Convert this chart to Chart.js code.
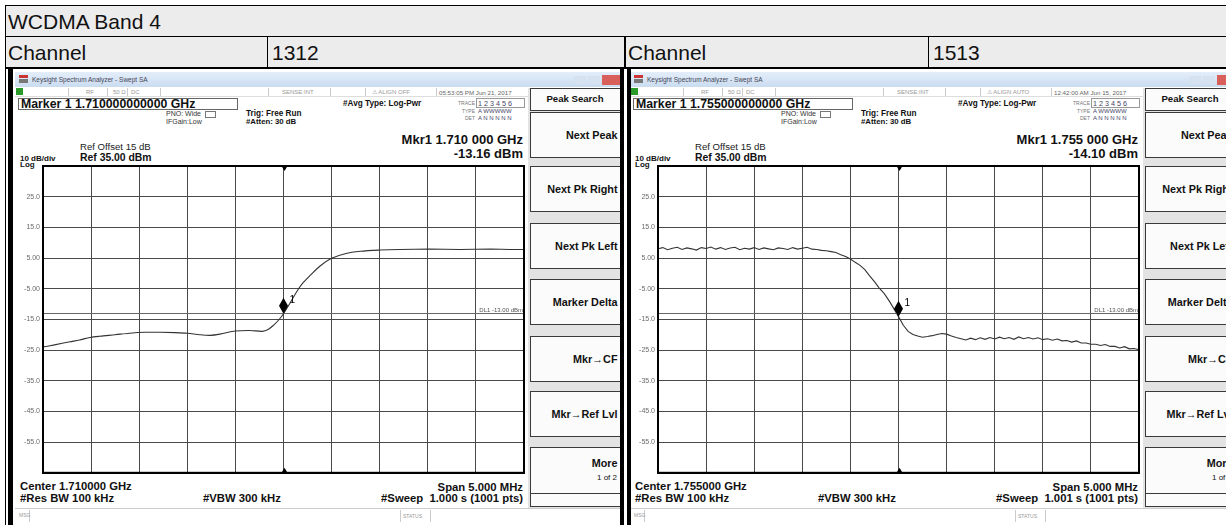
<!DOCTYPE html>
<html>
<head>
<meta charset="utf-8">
<title>WCDMA Band 4</title>
<script src="https://cdn.jsdelivr.net/npm/chart.js@4.4.1/dist/chart.umd.min.js"></script>
<style>
  body { margin: 0; background: #fff; font-family: Arial, "Liberation Sans", sans-serif; }
  #page { position: relative; width: 1226px; height: 525px; overflow: hidden; background: #fff; }
  .abs { position: absolute; white-space: pre; }
  .screen { position: absolute; top: 0; width: 620px; height: 525px; overflow: hidden; }
  .btn { position: absolute; left: 530px; width: 92px; box-sizing: border-box; background: #fbfbfb; border: 1px solid #3a3a3a; }
  canvas { position: absolute; }
</style>
</head>
<body>
<div id="page"></div>
<script>
// --- Datos de las dos capturas (frecuencia en MHz, nivel en dBm) ---
const leftFreq = [1707.50, 1707.62, 1707.78, 1707.88, 1707.99, 1708.09, 1708.25, 1708.40, 1708.56, 1708.72,
                  1708.87, 1709.00, 1709.13, 1709.24, 1709.34, 1709.50, 1709.65, 1709.78, 1709.84, 1709.90,
                  1709.95, 1710.00, 1710.07, 1710.14, 1710.20, 1710.28, 1710.38, 1710.50, 1710.64, 1710.80,
                  1711.00, 1711.21, 1711.52, 1711.83, 1712.15, 1712.35, 1712.50];
const leftLevel = [-24.0, -23.3, -22.3, -21.7, -20.9, -20.5, -20.0, -19.5, -19.2, -19.2,
                   -19.3, -19.5, -20.0, -20.2, -19.8, -18.8, -18.6, -18.9, -18.3, -16.8,
                   -15.2, -13.16, -9.6, -5.8, -3.2, -0.6, 2.4, 4.9, 6.4, 7.2,
                   7.6, 7.8, 7.9, 7.8, 7.9, 7.8, 7.8];

const rightFreq = [1752.50, 1752.55, 1752.60, 1752.65, 1752.70, 1752.75, 1752.80, 1752.85, 1752.90, 1752.95,
                   1753.00, 1753.05, 1753.10, 1753.15, 1753.20, 1753.25, 1753.30, 1753.35, 1753.40, 1753.45,
                   1753.50, 1753.55, 1753.60, 1753.65, 1753.70, 1753.75, 1753.80, 1753.85, 1753.90, 1753.95,
                   1754.00, 1754.05, 1754.10, 1754.15, 1754.20, 1754.25, 1754.30, 1754.35, 1754.40, 1754.45,
                   1754.50, 1754.55, 1754.60, 1754.65, 1754.70, 1754.75, 1754.80, 1754.85, 1754.90, 1754.95,
                   1755.00, 1755.05, 1755.10, 1755.15, 1755.20, 1755.25, 1755.30, 1755.35, 1755.40, 1755.45,
                   1755.50, 1755.55, 1755.60, 1755.65, 1755.70, 1755.75, 1755.80, 1755.85, 1755.90, 1755.95,
                   1756.00, 1756.05, 1756.10, 1756.15, 1756.20, 1756.25, 1756.30, 1756.35, 1756.40, 1756.45,
                   1756.50, 1756.55, 1756.60, 1756.65, 1756.70, 1756.75, 1756.80, 1756.85, 1756.90, 1756.95,
                   1757.00, 1757.05, 1757.10, 1757.15, 1757.20, 1757.25, 1757.30, 1757.35, 1757.40, 1757.45,
                   1757.50];
const rightLevel = [8.0, 8.4, 7.7, 8.2, 8.5, 7.8, 8.3, 8.0, 7.6, 8.4,
                    8.1, 8.6, 7.9, 8.4, 7.8, 8.3, 8.5, 7.7, 8.2, 7.9,
                    8.4, 7.8, 8.3, 8.0, 7.7, 8.3, 8.1, 7.8, 8.4, 7.9,
                    8.2, 8.5, 7.9, 7.8, 7.5, 7.4, 7.1, 6.8, 6.1, 5.5,
                    4.7, 3.6, 2.6, 1.2, -0.8, -2.7, -4.8, -6.5, -8.8, -11.4,
                    -14.10, -16.9, -18.9, -19.9, -20.4, -20.8, -20.6, -20.3, -19.9, -19.6,
                    -19.8, -20.4, -20.9, -21.3, -21.7, -21.1, -21.6, -21.0, -21.5, -20.9,
                    -21.4, -20.8, -21.3, -20.9, -21.5, -20.7, -21.3, -20.9, -21.4, -21.0,
                    -21.6, -21.3, -21.8, -21.4, -22.0, -21.9, -22.4, -22.0, -22.7, -22.7,
                    -23.1, -23.1, -23.5, -23.2, -23.8, -23.8, -24.3, -23.9, -24.6, -24.5,
                    -24.9];

const yTickValues = [25, 15, 5, -5, -15, -25, -35, -45, -55];
const yTickLabels = ['25.0', '15.0', '5.00', '-5.00', '-15.0', '-25.0', '-35.0', '-45.0', '-55.0'];
const refLevel = 35;
const dbPerDiv = 10;
const displayLine = -13;

const leftCenter = 1710, rightCenter = 1755, spanMHz = 5;
const leftMarker = -13.16, rightMarker = -14.10;

const softKeys = ['Next Peak', 'Next Pk Right', 'Next Pk Left', 'Marker Delta', 'Mkr\u2192CF', 'Mkr\u2192Ref Lvl'];

// --- Utilidades de maquetación ---
const page = document.getElementById('page');

function box(parent, css, text, cls) {
    const d = document.createElement('div');
    d.className = cls || 'abs';
    Object.assign(d.style, css);
    if (text !== undefined) d.textContent = text;
    parent.appendChild(d);
    return d;
}

function label(parent, x, y, text, size, opt) {
    opt = opt || {};
    const h = Math.ceil(size * 2), w = 300;
    const css = {
        top: (y - h / 2) + 'px', height: h + 'px', lineHeight: h + 'px',
        fontSize: size + 'px', fontWeight: opt.bold ? 'bold' : 'normal',
        color: opt.color || '#111'
    };
    if (opt.align === 'right') { css.left = (x - w) + 'px'; css.width = w + 'px'; css.textAlign = 'right'; }
    else if (opt.align === 'center') { css.left = (x - w / 2) + 'px'; css.width = w + 'px'; css.textAlign = 'center'; }
    else css.left = x + 'px';
    return box(parent, css, text);
}

// --- Tabla ---
box(page, { left: '5px', top: '5px', width: '1230px', height: '32px', background: '#ececec' });
box(page, { left: '5px', top: '37px', width: '1230px', height: '31px', background: '#ececec' });
label(page, 8, 22, 'WCDMA Band 4', 21);
label(page, 8, 53, 'Channel', 21);
label(page, 272, 53, '1312', 21);
label(page, 628, 53, 'Channel', 21);
label(page, 933, 53, '1513', 21);

// --- Capturas del analizador ---
function buildScreen(cfg) {
    const s = box(page, { left: cfg.ox + 'px' }, undefined, 'screen');
    box(s, { left: '15px', top: '70px', width: '605px', height: '455px', background: '#fff' });
    // barra de título
    box(s, { left: '15px', top: '72px', width: '605px', height: '15px', background: 'linear-gradient(#e4eefa, #cadcf0)' });
    box(s, { left: '19px', top: '75px', width: '9px', height: '3px', background: '#c33' });
    box(s, { left: '19px', top: '79px', width: '9px', height: '4px', background: '#777' });
    label(s, 32, 79.5, 'Keysight Spectrum Analyzer - Swept SA', 6.5, { color: '#445' });
    box(s, { left: '574px', top: '76px', width: '12px', height: '8px', background: '#d6e2ef' });
    box(s, { left: '588px', top: '76px', width: '12px', height: '8px', background: '#d6e2ef' });
    box(s, { left: '602px', top: '75px', width: '18px', height: '10px', background: '#d9605a' });
    // fila de estado
    box(s, { left: '15px', top: '87px', width: '605px', height: '9px', background: '#fff', borderBottom: '1px solid #ddd' });
    box(s, { left: '16px', top: '88px', width: '7px', height: '7px', background: '#2a9a2a' });
    [68, 107, 127, 160, 268, 330, 365, 436].forEach(x => box(s, { left: x + 'px', top: '88px', width: '1px', height: '8px', background: '#ccc' }));
    label(s, 86, 92, 'RF', 6, { color: '#999' });
    label(s, 113, 92, '50 \u03a9', 6, { color: '#999' });
    label(s, 131, 92, 'DC', 6, { color: '#999' });
    label(s, 282, 92, 'SENSE:INT', 6, { color: '#999' });
    label(s, 372, 92, '\u26a0 ' + cfg.align, 6, { color: '#999' });
    label(s, 439, 92, cfg.time, 6.2, { color: '#666' });

    // cabecera del marcador
    box(s, { left: '18px', top: '98px', width: '220px', height: '12px', border: '1px solid #666', boxSizing: 'border-box' });
    label(s, 21, 104, cfg.marker, 12.3, { bold: true });
    label(s, 166, 114, 'PNO: Wide', 7, { color: '#333' });
    box(s, { left: '205px', top: '111px', width: '9px', height: '5px', border: '1px solid #777' });
    label(s, 166, 122, 'IFGain:Low', 7, { color: '#333' });
    label(s, 246, 113, 'Trig: Free Run', 8.2, { bold: true });
    label(s, 246, 122, '#Atten: 30 dB', 7.8, { bold: true });
    label(s, 343, 103, '#Avg Type: Log-Pwr', 8.2, { bold: true });
    label(s, 475, 103, 'TRACE', 5, { color: '#777', align: 'right' });
    label(s, 478, 103, '1 2 3 4 5 6', 7.2, { color: '#446' });
    box(s, { left: '476px', top: '98px', width: '49px', height: '10px', border: '1px solid #999', boxSizing: 'border-box' });
    label(s, 475, 111, 'TYPE', 5, { color: '#777', align: 'right' });
    label(s, 478, 111, 'A WWWWW', 6, { color: '#446' });
    label(s, 475, 118, 'DET', 5, { color: '#777', align: 'right' });
    label(s, 478, 118, 'A N N N N N', 6, { color: '#446' });

    label(s, 523, 140, cfg.mkr, 13, { bold: true, align: 'right' });
    label(s, 523, 154, cfg.mkrLevel, 13, { bold: true, align: 'right' });
    label(s, 80, 147, 'Ref Offset 15 dB', 9.6, { color: '#222' });
    label(s, 80, 157.5, 'Ref 35.00 dBm', 10.4, { bold: true });
    label(s, 20, 158.5, '10 dB/div', 8, { bold: true });
    label(s, 20, 165, 'Log', 8, { bold: true });

    // pie de la captura
    label(s, 20, 486, cfg.center, 11.3, { bold: true });
    label(s, 20, 498, '#Res BW 100 kHz', 11.3, { bold: true });
    label(s, 203, 498, '#VBW 300 kHz', 11.3, { bold: true });
    label(s, 523, 487, 'Span 5.000 MHz', 11.3, { bold: true, align: 'right' });
    label(s, 523, 498, cfg.sweep, 11.3, { bold: true, align: 'right' });
    box(s, { left: '15px', top: '508px', width: '605px', height: '1px', background: '#ccc' });
    box(s, { left: '29px', top: '510px', width: '1px', height: '12px', background: '#ccc' });
    box(s, { left: '400px', top: '510px', width: '1px', height: '12px', background: '#ccc' });
    box(s, { left: '430px', top: '510px', width: '1px', height: '12px', background: '#ccc' });
    label(s, 19, 515, 'MSG', 5, { color: '#999' });
    label(s, 403, 516, 'STATUS', 5, { color: '#999' });

    // teclas de menú
    box(s, { left: '528px', top: '88px', width: '95px', height: '420px', background: '#e3e3e3' });
    box(s, { top: '88px', height: '23px' }, undefined, 'btn');
    label(s, 575, 98.5, 'Peak Search', 9.6, { bold: true, align: 'center' });
    const tops = [112, 166, 223, 279, 336, 391];
    softKeys.forEach((k, i) => {
        box(s, { top: tops[i] + 'px', height: '46px' }, undefined, 'btn');
        label(s, 617.5, tops[i] + 23, k, 10.8, { bold: true, align: 'right' });
    });
    box(s, { top: '447px', height: '47px' }, undefined, 'btn');
    label(s, 617.5, 463, 'More', 10.8, { bold: true, align: 'right' });
    label(s, 617, 478, '1 of 2', 8, { align: 'right' });
    box(s, { top: '493px', height: '14px' }, undefined, 'btn');

    const c = document.createElement('canvas');
    c.width = 509; c.height = 322;
    c.style.left = '17px'; c.style.top = '158px';
    s.appendChild(c);
    return c;
}

const leftCanvas = buildScreen({
    ox: 0, marker: 'Marker 1 1.710000000000 GHz', mkr: 'Mkr1 1.710 000 GHz', mkrLevel: '-13.16 dBm',
    center: 'Center 1.710000 GHz', sweep: '#Sweep  1.000 s (1001 pts)', align: 'ALIGN OFF', time: '05:53:05 PM Jun 21, 2017'
});
const rightCanvas = buildScreen({
    ox: 615, marker: 'Marker 1 1.755000000000 GHz', mkr: 'Mkr1 1.755 000 GHz', mkrLevel: '-14.10 dBm',
    center: 'Center 1.755000 GHz', sweep: '#Sweep  1.001 s (1001 pts)', align: 'ALIGN AUTO', time: '12:42:00 AM Jun 15, 2017'
});

// líneas de la tabla
const lines = [
    [5, 5, 1230, 1], [5, 36, 1230, 1], [5, 67, 1230, 2],
    [5, 5, 1, 525], [267, 37, 1, 31], [928, 37, 1, 31], [624, 37, 2, 31],
    [8, 69, 5, 460], [620, 69, 4, 460], [627, 69, 4, 460]
];
lines.forEach(l => box(page, { left: l[0] + 'px', top: l[1] + 'px', width: l[2] + 'px', height: l[3] + 'px', background: '#000' }));

// --- Gráficos ---
Chart.defaults.font.family = 'Arial, "Liberation Sans", sans-serif';

const analyzerExtras = {
    id: 'analyzerExtras',
    afterDraw(chart, args, opts) {
        const { ctx, chartArea: a, scales: { x, y } } = chart;
        ctx.save();
        // línea de display
        const dy = Math.round(y.getPixelForValue(displayLine)) + 0.5;
        ctx.strokeStyle = '#666';
        ctx.lineWidth = 1;
        ctx.beginPath();
        ctx.moveTo(a.left, dy);
        ctx.lineTo(a.right, dy);
        ctx.stroke();
        ctx.font = '6px Arial';
        ctx.fillStyle = '#555';
        ctx.textAlign = 'right';
        ctx.textBaseline = 'alphabetic';
        ctx.fillText('DL1 -13.00 dBm', a.right - 1, dy - 2);

        // triángulos del marcador en el centro
        const cx = Math.round(x.getPixelForValue(opts.center)) + 0.5;
        ctx.fillStyle = '#000';
        ctx.beginPath();
        ctx.moveTo(cx - 3, a.top); ctx.lineTo(cx + 3, a.top); ctx.lineTo(cx, a.top + 5);
        ctx.closePath(); ctx.fill();
        ctx.beginPath();
        ctx.moveTo(cx - 3, a.bottom); ctx.lineTo(cx + 3, a.bottom); ctx.lineTo(cx, a.bottom - 5);
        ctx.closePath(); ctx.fill();

        // rombo del marcador 1
        const mx = x.getPixelForValue(opts.center);
        const my = y.getPixelForValue(opts.marker);
        ctx.beginPath();
        ctx.moveTo(mx, my);
        ctx.lineTo(mx + 4.5, my - 8);
        ctx.lineTo(mx, my - 16);
        ctx.lineTo(mx - 4.5, my - 8);
        ctx.closePath();
        ctx.fill();
        ctx.font = '10px Arial';
        ctx.textAlign = 'left';
        ctx.fillText('1', mx + 6, my - 11);

        // marco
        ctx.strokeStyle = '#000';
        ctx.lineWidth = 2;
        ctx.strokeRect(a.left, a.top, a.width, a.height);
        ctx.restore();
    }
};

function makeTrace(canvas, freq, level, center, marker, tension) {
    return new Chart(canvas, {
        type: 'scatter',
        data: {
            datasets: [{
                data: freq.map((f, i) => ({ x: f, y: level[i] })),
                showLine: true,
                borderColor: '#333',
                borderWidth: 1.1,
                pointRadius: 0,
                tension: tension
            }]
        },
        options: {
            responsive: false,
            animation: false,
            layout: { padding: { top: 8, right: 2, bottom: 2, left: 0 } },
            plugins: {
                legend: { display: false },
                tooltip: { enabled: false },
                analyzerExtras: { center: center, marker: marker }
            },
            scales: {
                x: {
                    type: 'linear',
                    min: center - spanMHz / 2,
                    max: center + spanMHz / 2,
                    ticks: { display: false, stepSize: spanMHz / 10 },
                    grid: { color: '#4a4a4a', lineWidth: 1, drawTicks: false },
                    border: { display: true, color: '#000', width: 2 },
                    afterFit: scale => { scale.height = 0; }
                },
                y: {
                    min: refLevel - dbPerDiv * 10,
                    max: refLevel,
                    ticks: {
                        stepSize: dbPerDiv,
                        padding: 3,
                        color: '#6a6a6a',
                        font: { size: 7 },
                        callback: v => {
                            const i = yTickValues.indexOf(v);
                            return i < 0 ? '' : yTickLabels[i];
                        }
                    },
                    grid: { color: '#4a4a4a', lineWidth: 1, drawTicks: false },
                    border: { display: true, color: '#000', width: 2 },
                    afterFit: scale => { scale.width = 26; }
                }
            }
        },
        plugins: [analyzerExtras]
    });
}

makeTrace(leftCanvas, leftFreq, leftLevel, leftCenter, leftMarker, 0.3);
makeTrace(rightCanvas, rightFreq, rightLevel, rightCenter, rightMarker, 0);
</script>
</body>
</html>
